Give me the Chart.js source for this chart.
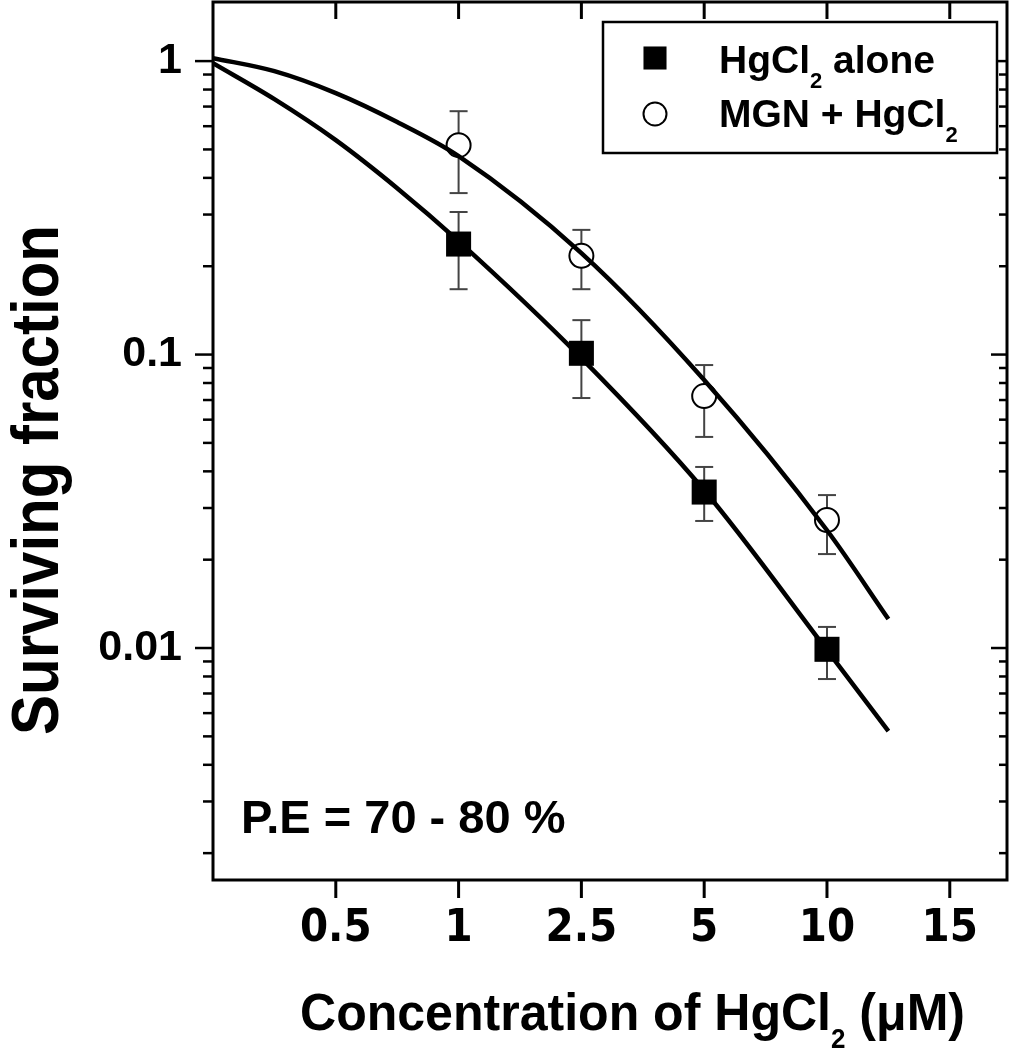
<!DOCTYPE html>
<html>
<head>
<meta charset="utf-8">
<title>Surviving fraction vs HgCl2</title>
<script src="https://cdn.jsdelivr.net/npm/chart.js@4.4.1/dist/chart.umd.min.js"></script>
<style>
  html, body { margin:0; padding:0; background:#fff; }
  #wrap { position:relative; width:1011px; height:1050px; }
</style>
</head>
<body>
<div id="wrap"><canvas id="chart" width="1011" height="1050"></canvas></div>
<script>
// x axis is evenly spaced categories (not to scale)
const categories = ['0.5', '1', '2.5', '5', '10', '15'];
const doses = ['1', '2.5', '5', '10'];

// HgCl2 alone (filled squares) + error bar ends
const aloneMean = [0.238, 0.101, 0.034, 0.0099];
const aloneHi   = [0.306, 0.131, 0.0414, 0.0118];
const aloneLo   = [0.167, 0.0711, 0.0271, 0.00784];

// MGN + HgCl2 (open circles) + error bar ends
const mgnMean = [0.517, 0.217, 0.0722, 0.0273];
const mgnHi   = [0.675, 0.266, 0.0921, 0.0332];
const mgnLo   = [0.355, 0.167, 0.0524, 0.0209];

// fitted curves at axis positions (1 = '0.5', 2 = '1', ...)
const fitPos   = [0, 0.5, 1, 1.5, 2, 3, 4, 5, 5.5];
const aloneFit = [0.984, 0.742, 0.538, 0.369, 0.2435, 0.0973, 0.0345, 0.00984, 0.00521];
const mgnFit   = [1.024, 0.924, 0.778, 0.620, 0.4746, 0.2217, 0.0819, 0.0252, 0.01256];

// y ticks (log), only decades get a label
const yDecades = [0.001, 0.01, 0.1, 1];
const ySteps = [1, 2, 3, 4, 5, 6, 7, 8, 9];
const yLabels = [1, 0.1, 0.01];
const yMin = 0.00162, yMax = 1.59;
const xMax = 6.466;

const yTicks = yDecades.flatMap(d => ySteps.map(s => +(d * s).toPrecision(3)))
  .filter(v => v >= yMin && v <= yMax);

const posOf = d => categories.indexOf(d) + 1;
const BOLD = "'Liberation Sans', Arial, Helvetica, sans-serif";
const NARROW = "'Liberation Sans Narrow', 'Arial Narrow', 'DejaVu Sans Condensed', sans-serif";

// text with subscripts: parts = [[text, isSub], ...]
function richWidth(ctx, parts, size, subSize){
  let w = 0;
  parts.forEach(([t, sub]) => {
    ctx.font = 'bold ' + (sub ? subSize : size) + 'px ' + BOLD;
    w += ctx.measureText(t).width;
  });
  return w;
}
function drawRich(ctx, parts, x, y, size, subSize, subDrop, sx){
  ctx.save();
  ctx.translate(x, y);
  ctx.scale(sx || 1, 1);
  let cx = 0;
  ctx.textAlign = 'left';
  ctx.textBaseline = 'alphabetic';
  parts.forEach(([t, sub]) => {
    ctx.font = 'bold ' + (sub ? subSize : size) + 'px ' + BOLD;
    ctx.fillText(t, cx, sub ? subDrop : 0);
    cx += ctx.measureText(t).width;
  });
  ctx.restore();
}

function line(ctx, x1, y1, x2, y2){
  ctx.beginPath(); ctx.moveTo(x1, y1); ctx.lineTo(x2, y2); ctx.stroke();
}

// error bars under the markers
const errorBars = {
  id: 'errorBars',
  beforeDatasetsDraw(chart){
    const ctx = chart.ctx, ys = chart.scales.y;
    ctx.save();
    ctx.strokeStyle = '#444';
    ctx.lineWidth = 2;
    chart.data.datasets.forEach((ds, di) => {
      if(!ds.errHi) return;
      const meta = chart.getDatasetMeta(di);
      meta.data.forEach((pt, i) => {
        const yh = ys.getPixelForValue(ds.errHi[i]);
        const yl = ys.getPixelForValue(ds.errLo[i]);
        line(ctx, pt.x, yh, pt.x, yl);
        line(ctx, pt.x - 9, yh, pt.x + 9, yh);
        line(ctx, pt.x - 9, yl, pt.x + 9, yl);
      });
    });
    ctx.restore();
  }
};

// frame, inner/outer ticks, legend and titles
const decor = {
  id: 'decor',
  afterDraw(chart){
    const ctx = chart.ctx;
    const {left, right, top, bottom} = chart.chartArea;
    const xs = chart.scales.x, ys = chart.scales.y;
    ctx.save();
    ctx.strokeStyle = '#000';
    ctx.lineWidth = 3;
    xs.ticks.forEach(t => {
      const px = xs.getPixelForValue(t.value);
      line(ctx, px, bottom, px, bottom + 18);
      line(ctx, px, top, px, top + 17);
    });
    ctx.lineWidth = 2.5;
    ys.ticks.forEach(t => {
      const py = ys.getPixelForValue(t.value);
      const len = yLabels.includes(t.value) ? 18 : 10;
      line(ctx, left - len, py, left, py);
      line(ctx, right - len + 2, py, right, py);
    });
    ctx.lineWidth = 3;
    ctx.strokeRect(left, top, right - left, bottom - top);

    // legend box
    ctx.fillStyle = '#fff';
    ctx.fillRect(603, 22, 394, 131);
    ctx.lineWidth = 2.5;
    ctx.strokeRect(603, 22, 394, 131);
    const dsA = chart.data.datasets[2], dsM = chart.data.datasets[3];
    ctx.fillStyle = '#000';
    Chart.helpers.drawPoint(ctx, {pointStyle: dsA.pointStyle, radius: 16.3, borderWidth: 0}, 655, 58);
    ctx.fillStyle = '#fff';
    ctx.strokeStyle = '#000';
    ctx.lineWidth = 2;
    Chart.helpers.drawPoint(ctx, {pointStyle: dsM.pointStyle, radius: 11.5, borderWidth: 2}, 655, 114);
    ctx.fillStyle = '#000';
    drawRich(ctx, [['HgCl', false], ['2', true], [' alone', false]], 719, 73, 39, 22, 15);
    drawRich(ctx, [['MGN + HgCl', false], ['2', true]], 719, 127, 39, 22, 15);

    // plating efficiency note
    drawRich(ctx, [['P.E = 70 - 80 %', false]], 241, 833, 47, 20, 0);

    // x title
    const xParts = [['Concentration of HgCl', false], ['2', true], [' (\u03BCM)', false]];
    const xw = richWidth(ctx, xParts, 52, 27);
    drawRich(ctx, xParts, 300, 1030, 52, 27, 18, 665 / xw);

    // y title
    ctx.save();
    ctx.translate(58, 480);
    ctx.rotate(-Math.PI / 2);
    ctx.font = 'bold 67px ' + BOLD;
    const yw = ctx.measureText('Surviving fraction').width;
    ctx.scale(510 / yw, 1);
    ctx.textAlign = 'center';
    ctx.textBaseline = 'alphabetic';
    ctx.fillText('Surviving fraction', 0, 0);
    ctx.restore();

    ctx.restore();
  }
};

new Chart(document.getElementById('chart'), {
  type: 'line',
  data: {
    datasets: [
      {
        label: 'fit HgCl2 alone',
        data: fitPos.map((p, i) => ({x: p, y: aloneFit[i]})),
        borderColor: '#000', borderWidth: 4.5, pointRadius: 0,
        cubicInterpolationMode: 'monotone', fill: false
      },
      {
        label: 'fit MGN + HgCl2',
        data: fitPos.map((p, i) => ({x: p, y: mgnFit[i]})),
        borderColor: '#000', borderWidth: 4.5, pointRadius: 0,
        cubicInterpolationMode: 'monotone', fill: false
      },
      {
        label: 'HgCl2 alone',
        data: doses.map((d, i) => ({x: posOf(d), y: aloneMean[i]})),
        errHi: aloneHi, errLo: aloneLo,
        showLine: false, pointStyle: 'rect', pointRadius: 17.7,
        backgroundColor: '#000', borderColor: '#000', borderWidth: 0
      },
      {
        label: 'MGN + HgCl2',
        data: doses.map((d, i) => ({x: posOf(d), y: mgnMean[i]})),
        errHi: mgnHi, errLo: mgnLo,
        showLine: false, pointStyle: 'circle', pointRadius: 12,
        backgroundColor: '#fff', borderColor: '#000', borderWidth: 2
      }
    ]
  },
  options: {
    responsive: false,
    animation: false,
    devicePixelRatio: 1,
    events: [],
    layout: { autoPadding: false, padding: { top: 2, right: 4, left: 0, bottom: 0 } },
    plugins: { legend: { display: false }, tooltip: { enabled: false } },
    scales: {
      x: {
        type: 'linear', min: 0, max: xMax,
        afterBuildTicks: s => { s.ticks = categories.map((c, i) => ({value: i + 1})); },
        afterFit: s => { s.height = 170; s.paddingLeft = 0; s.paddingRight = 0; s.paddingTop = 0; s.paddingBottom = 0; },
        grid: { display: false, drawTicks: false },
        border: { display: false },
        ticks: {
          autoSkip: false, maxRotation: 0, padding: 22, color: '#000',
          font: { family: NARROW, size: 45, weight: 'bold' },
          callback: v => categories[v - 1] || ''
        }
      },
      y: {
        type: 'logarithmic', min: yMin, max: yMax,
        afterBuildTicks: s => { s.ticks = yTicks.map(v => ({value: v})); },
        afterFit: s => { s.width = 213; s.paddingLeft = 0; s.paddingRight = 0; s.paddingTop = 0; s.paddingBottom = 0; },
        grid: { display: false, drawTicks: false },
        border: { display: false },
        ticks: {
          autoSkip: false, padding: 31, color: '#000',
          font: { family: BOLD, size: 43, weight: 'bold' },
          callback: v => yLabels.includes(v) ? String(v) : ''
        }
      }
    }
  },
  plugins: [errorBars, decor]
});
</script>
</body>
</html>
